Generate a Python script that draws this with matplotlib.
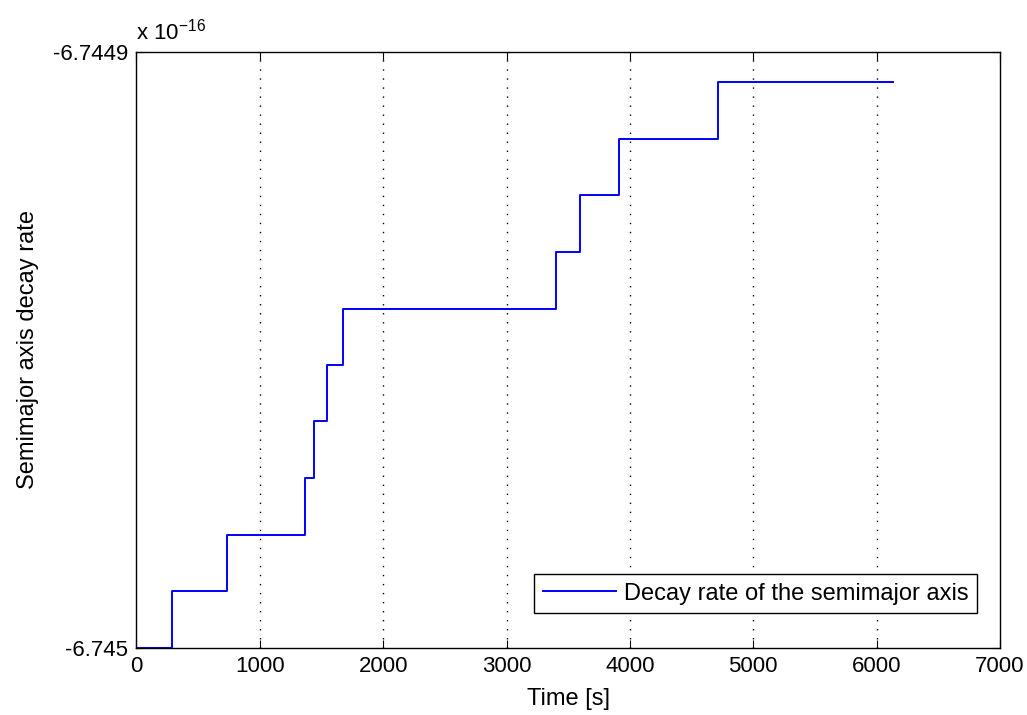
import numpy as np
import matplotlib.pyplot as plt

# step times [s] and semimajor axis decay rate levels
t_switch = [0, 285, 731, 1365, 1442, 1542, 1677, 3401, 3596, 3915, 4717, 6136]
decay = [-6.7450000e-16, -6.7449905e-16, -6.7449810e-16, -6.7449715e-16,
         -6.7449620e-16, -6.7449525e-16, -6.7449431e-16, -6.7449336e-16,
         -6.7449241e-16, -6.7449146e-16, -6.7449051e-16, -6.7449051e-16]
xticks = [0, 1000, 2000, 3000, 4000, 5000, 6000, 7000]
yticks = [-6.745e-16, -6.7449e-16]
ytick_labels = ["-6.745", "-6.7449"]

plt.rcParams['font.family'] = ['Liberation Sans', 'DejaVu Sans']
plt.rcParams['mathtext.default'] = 'regular'
fs = 16

fig = plt.figure(figsize=(10.27, 7.15), dpi=100)
ax = fig.add_axes([0.1329, 0.0937, 0.8408, 0.834])

ax.step(t_switch, decay, where='post', color=(0, 0, 1), lw=1.4,
        label="Decay rate of the semimajor axis")

ax.set_xlim(0, 7000)
ax.set_ylim(yticks[0], yticks[1])
ax.set_xticks(xticks)
ax.set_yticks(yticks)
ax.set_yticklabels(ytick_labels)

for x in xticks[1:-1]:
    ax.axvline(x, color='black', lw=1.0, linestyle=(0, (1, 5.5)), zorder=0)

ax.tick_params(direction='in', top=True, right=True, labelsize=fs, length=6,
               width=0.8, pad=6)
for s in ax.spines.values():
    s.set_linewidth(1.0)

ax.text(0.0, 1.012, r"x 10$^{-16}$", transform=ax.transAxes, fontsize=fs,
        ha='left', va='bottom')

ax.set_xlabel("Time [s]", fontsize=17, labelpad=8)
ax.set_ylabel("Semimajor axis decay rate", fontsize=17, labelpad=10)

leg = ax.legend(loc='lower right', fontsize=17, fancybox=False,
                edgecolor='black', framealpha=1, handlelength=3.1,
                handletextpad=0.35, borderaxespad=0, borderpad=0.35,
                bbox_to_anchor=(0.9513, 0.1427), bbox_transform=fig.transFigure)
leg.get_frame().set_linewidth(1.0)

fig.savefig("out.png", dpi=100, facecolor='white')
